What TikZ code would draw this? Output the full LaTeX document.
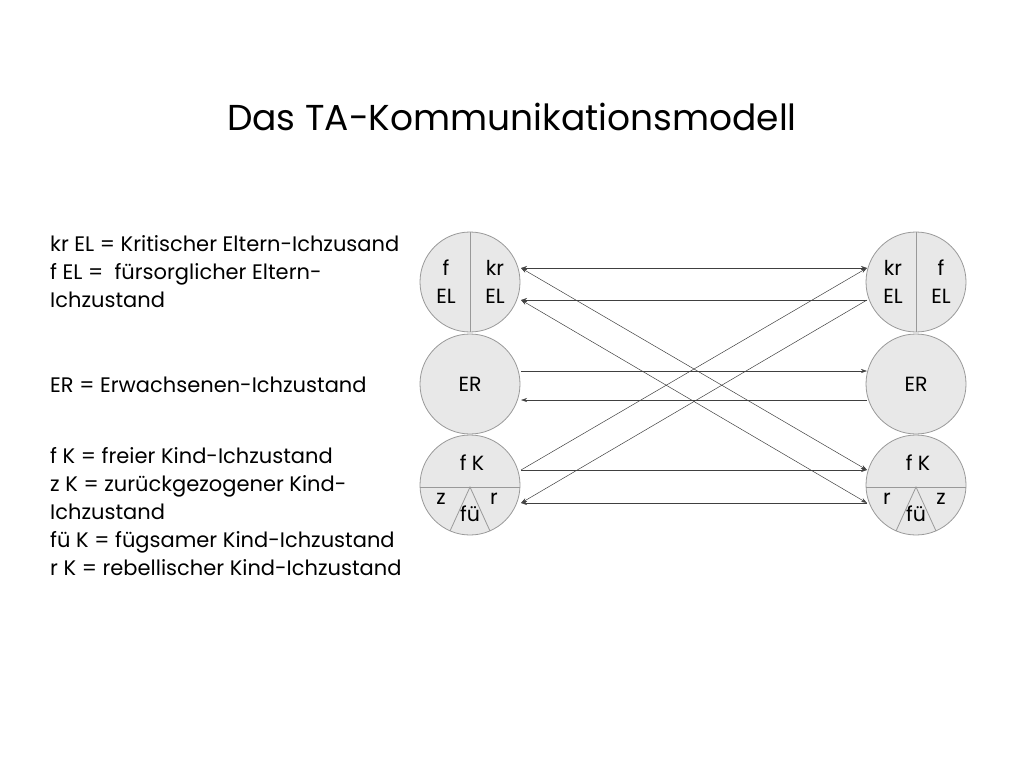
\documentclass[tikz,border=0pt]{standalone}
\usepackage{fontspec}
\setmainfont{Poppins}[Ligatures=NoCommon]
\usetikzlibrary{arrows.meta}
\begin{document}
\begin{tikzpicture}[x=1pt,y=-1pt,
  circ/.style={circle,draw=gray!80,fill=gray!18,line width=0.8pt,minimum size=100pt,inner sep=0pt},
  lbl/.style={font=\fontsize{20.5}{28}\selectfont,align=center,inner sep=0pt},
  leg/.style={font=\fontsize{21}{28}\selectfont,align=left,anchor=north west,inner sep=0pt},
  ar/.style={-{Stealth[length=6pt,width=4pt]},line width=0.5pt,draw=black!75},
  arb/.style={{Stealth[length=6pt,width=4pt]}-{Stealth[length=6pt,width=4pt]},line width=0.5pt,draw=black!75}]
\useasboundingbox (0,0) rectangle (1024,768);
\node[font=\fontsize{36}{40}\selectfont] (title) at (512,117) {Das TA-Kommunikationsmodell};
\node[leg] (l1) at (50,235) {kr EL = Kritischer Eltern-Ichzusand\\f EL = \ fürsorglicher Eltern-\\Ichzustand};
\node[leg] (l2) at (50,377) {ER = Erwachsenen-Ichzustand};
\node[leg] (l3) at (50,447) {f K = freier Kind-Ichzustand\\z K = zurückgezogener Kind-\\Ichzustand\\fü K = fügsamer Kind-Ichzustand\\r K = rebellischer Kind-Ichzustand};
% left
\node[circ] (LE) at (470,282) {};
\node[circ] (LR) at (470,384) {};
\node[circ] (LK) at (470,485) {};
\draw[gray!80,line width=0.8pt] (LE.north) -- (LE.south);
\draw[gray!80,line width=0.8pt] (420,487) -- (520,487);
\draw[gray!80,line width=0.8pt] (450,531) -- (470,487) -- (490,531);
\node[lbl] (t1) at (446,282) {f\\EL};
\node[lbl] (t2) at (495,282) {kr\\EL};
\node[lbl] (t3) at (470,384) {ER};
\node[lbl] (t4) at (472,463) {f K};
\node[lbl] (t5) at (441,499) {z};
\node[lbl] (t6) at (470,514) {fü};
\node[lbl] (t7) at (494,499) {r};
% right
\node[circ] (RE) at (916,282) {};
\node[circ] (RR) at (916,384) {};
\node[circ] (RK) at (916,485) {};
\draw[gray!80,line width=0.8pt] (RE.north) -- (RE.south);
\draw[gray!80,line width=0.8pt] (866,487) -- (966,487);
\draw[gray!80,line width=0.8pt] (896,531) -- (916,487) -- (936,531);
\node[lbl] (u1) at (893,282) {kr\\EL};
\node[lbl] (u2) at (941,282) {f\\EL};
\node[lbl] (u3) at (916,384) {ER};
\node[lbl] (u4) at (918,463) {f K};
\node[lbl] (u5) at (887,499) {r};
\node[lbl] (u6) at (916,514) {fü};
\node[lbl] (u7) at (941,499) {z};
% connector points
\coordinate (a1) at (521,268); \coordinate (b1) at (867,268);
\coordinate (a2) at (521,300); \coordinate (b2) at (867,300);
\coordinate (a3) at (521,371); \coordinate (b3) at (867,371);
\coordinate (a4) at (521,400); \coordinate (b4) at (867,400);
\coordinate (a5) at (521,470); \coordinate (b5) at (867,470);
\coordinate (a6) at (521,503); \coordinate (b6) at (867,503);
\draw[arb] (a1) -- (b1);
\draw[ar] (b2) -- (a2);
\draw[ar] (a3) -- (b3);
\draw[ar] (b4) -- (a4);
\draw[ar] (a5) -- (b5);
\draw[ar] (b6) -- (a6);
\draw[arb] (a1) -- (b5);
\draw[arb] (a2) -- (b6);
\draw[ar] (a5) -- (b1);
\draw[ar] (b2) -- (a6);
\end{tikzpicture}
\end{document}
